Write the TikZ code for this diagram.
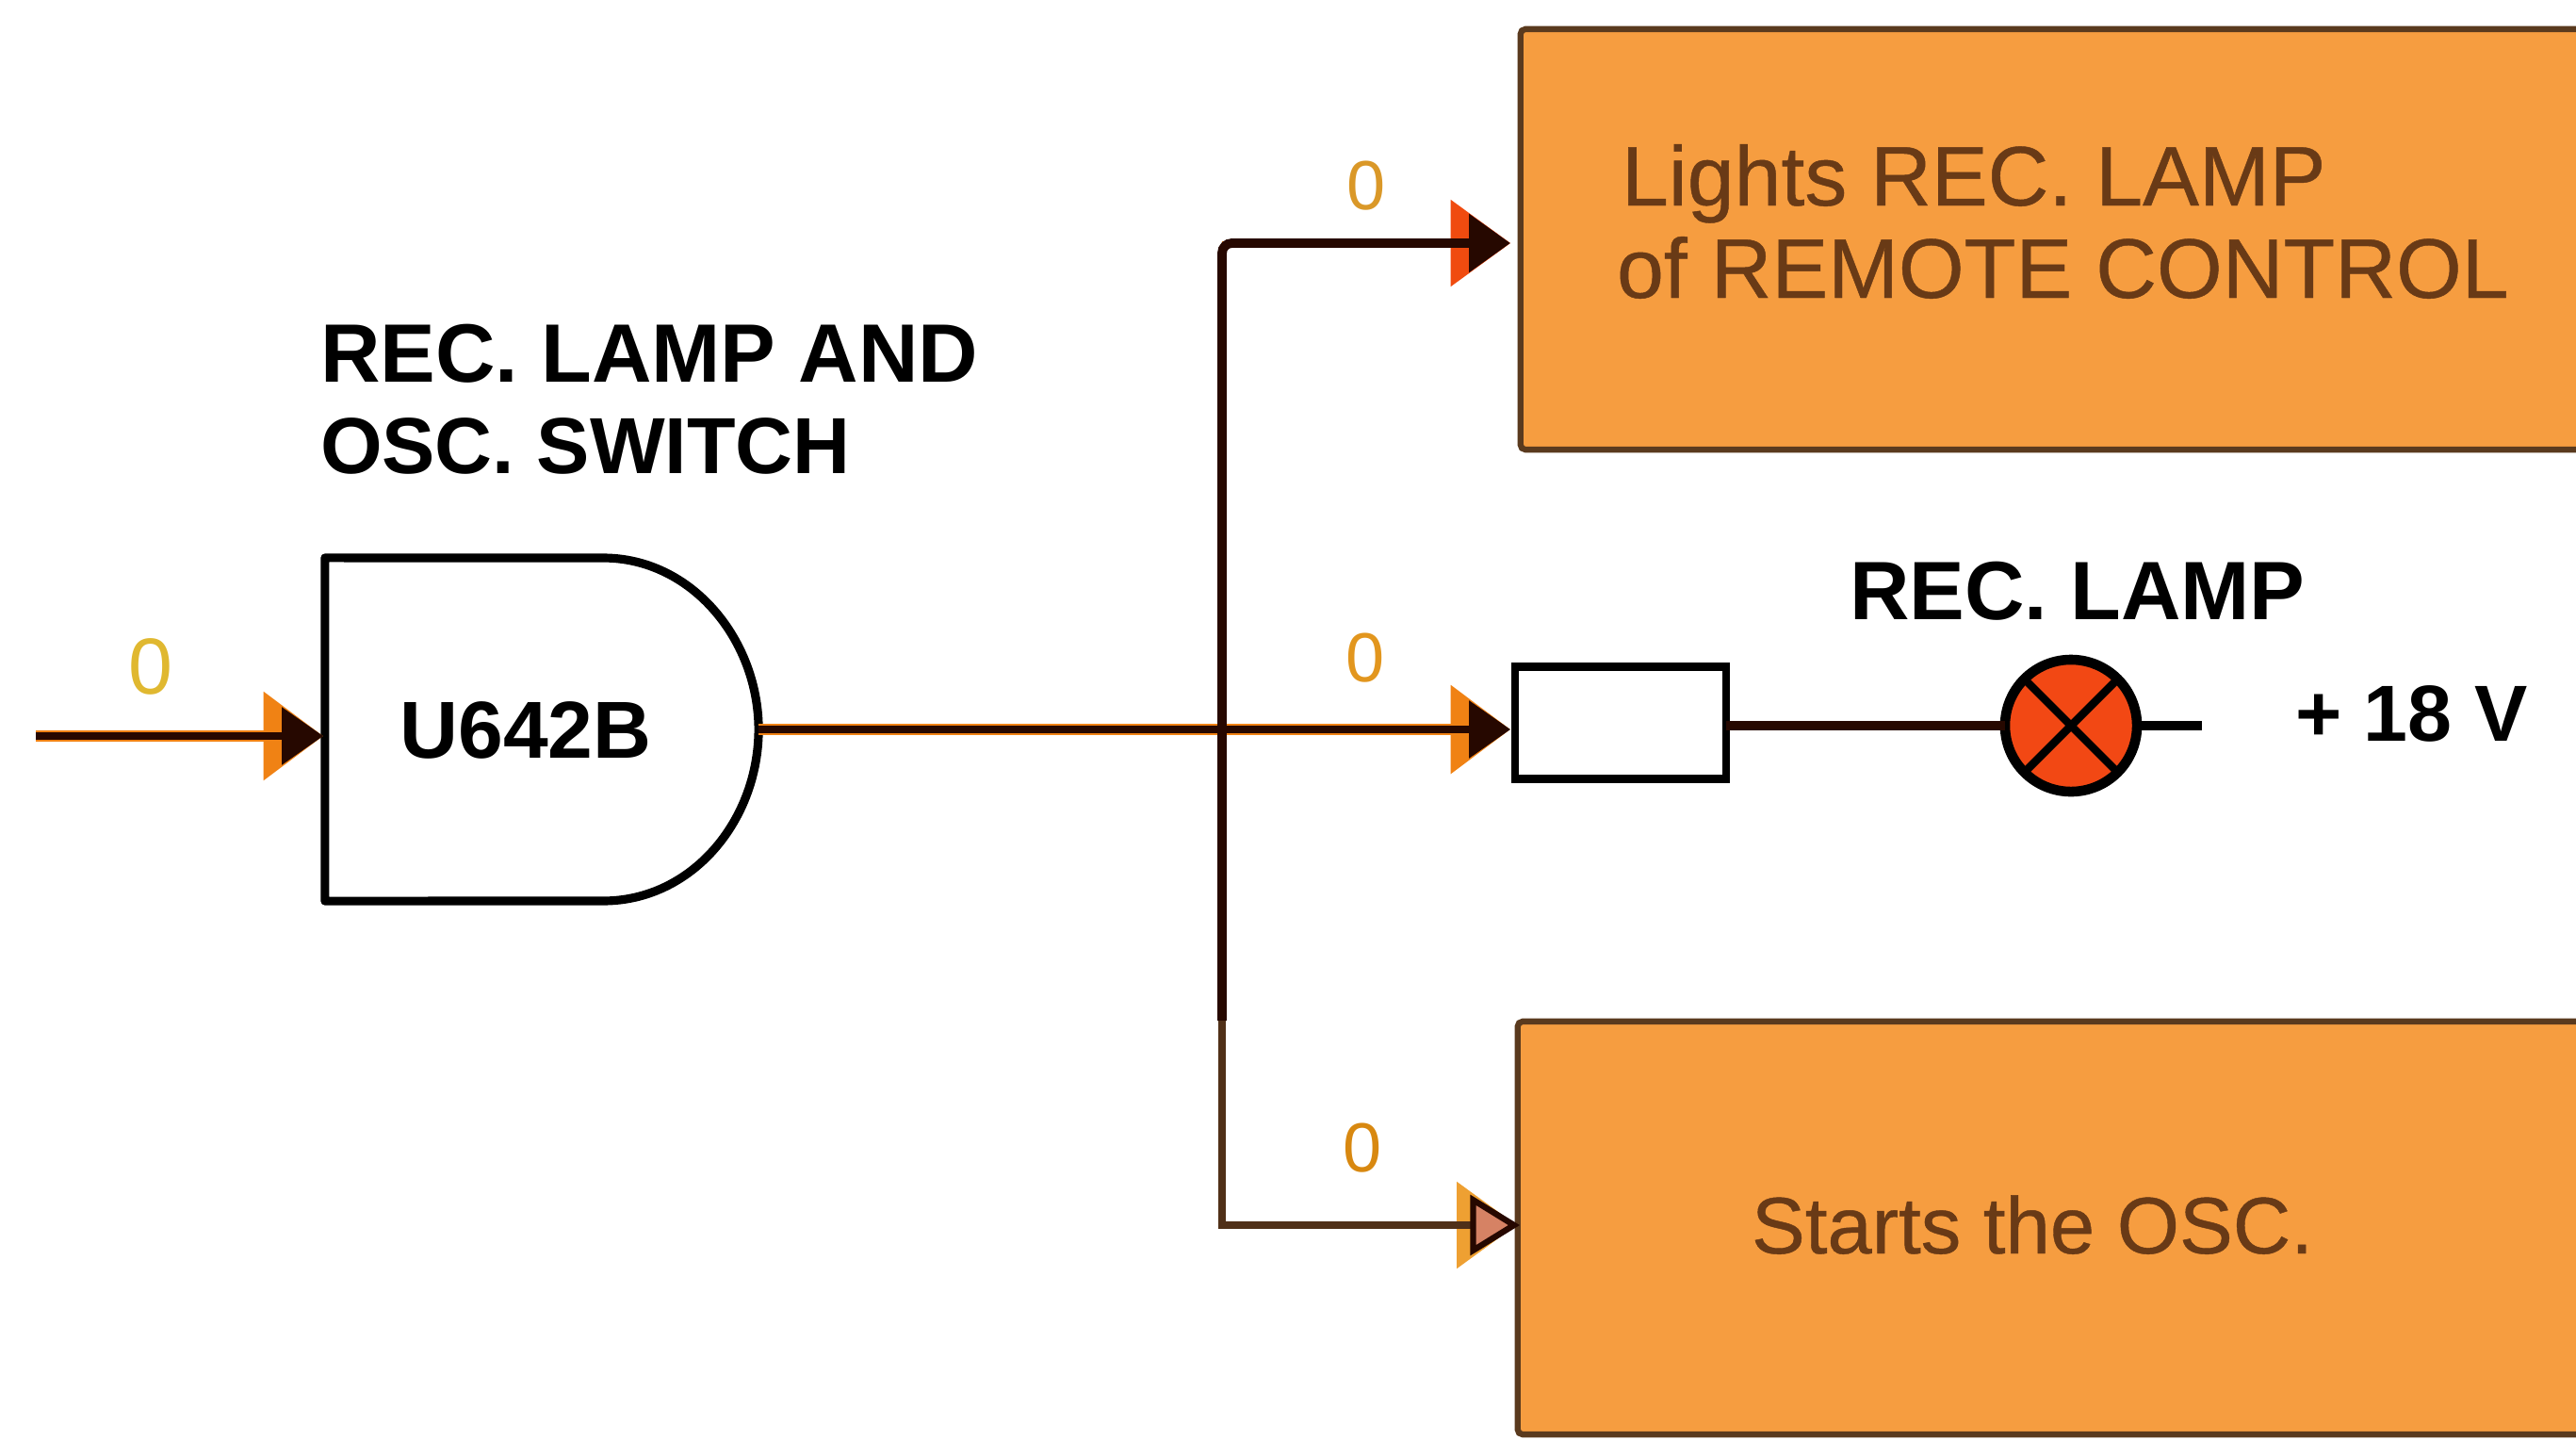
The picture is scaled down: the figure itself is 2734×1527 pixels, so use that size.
\documentclass[tikz,border=0pt]{standalone}
\usepackage{fontspec}
\setmainfont{Liberation Sans}
\newfontfamily\boxfont[FakeBold=0.5]{Liberation Sans}
\usetikzlibrary{arrows.meta}
\definecolor{boxfill}{RGB}{246,157,64}
\definecolor{boxedge}{RGB}{90,58,30}
\definecolor{boxtext}{RGB}{105,58,22}
\definecolor{wiredark}{RGB}{38,8,0}
\definecolor{wirebrown}{RGB}{80,48,24}
\definecolor{wireorange}{RGB}{240,130,20}
\definecolor{tipred}{RGB}{240,75,15}
\definecolor{tiplight}{RGB}{238,160,50}
\definecolor{tippink}{RGB}{214,130,100}
\definecolor{lampred}{RGB}{242,72,20}
\tikzset{
  every node/.style={inner sep=0pt,outer sep=0pt},
  actionbox/.style={draw=boxedge,fill=boxfill,line width=1.8pt,rounded corners=1.5pt,anchor=center},
  boxlabel/.style={text=boxtext,font=\boxfont\fontsize{25.5}{30}\selectfont,anchor=base west},
  heading/.style={text=black,font=\bfseries\fontsize{25}{30}\selectfont,anchor=base west},
  zerolabel/.style={font=\fontsize{21}{26}\selectfont},
  glow/.style={draw=wireorange,line width=3.4pt},
  wire/.style={draw=wiredark,line width=2.8pt},
  thinwire/.style={draw=wiredark,line width=2pt},
  otip/.style={-{Triangle[length=18pt,width=26pt,fill=#1,color=#1]}},
  dtip/.style={-{Triangle[length=12.5pt,width=17pt,fill=wiredark,color=wiredark]}},
  htip/.style={-{Triangle[open,length=15pt,width=18pt,line width=1.8pt,fill=tippink,color=wiredark]}}
}
\begin{document}
\begin{tikzpicture}[x=0.01cm,y=-0.01cm]
\useasboundingbox (0,0) rectangle (2734,1527);
\clip (0,0) rectangle (2734,1527);
\fill[white] (0,0) rectangle (2734,1527);

% blocks
\node[actionbox,minimum width=1200pt*0.2845,minimum height=446*0.2845pt] (top) at (2214,254) {};
\node[actionbox,minimum width=1200pt*0.2845,minimum height=438*0.2845pt] (bot) at (2211,1303) {};
\node[draw=black,fill=white,line width=2.4pt,minimum width=224*0.2845pt,minimum height=119*0.2845pt] (res) at (1720,767) {};
\node[minimum width=460*0.2845pt,minimum height=364*0.2845pt] (gate) at (575,774) {};
\node[circle,draw=black,fill=lampred,line width=3pt,minimum size=140*0.2845pt] (lamp) at (2198,770) {};
\coordinate (in) at (38,781);
\coordinate (J) at (1297,774);
\coordinate (K) at (1297,258);
\coordinate (L) at (1297,1300);
\coordinate (M) at (1297,1083);
\coordinate (stub) at (2337,770);
\coordinate (intip) at (343,781);
\coordinate (toptip) at (1603,258);
\coordinate (midtip) at (1603,774);
\coordinate (bottip) at (1613,1300);

% lamp cross
\draw[black,line width=2.4pt] (lamp.north west) -- (lamp.south east);
\draw[black,line width=2.4pt] (lamp.north east) -- (lamp.south west);

% gate outline
\draw[black,line width=2.6pt,line join=round,fill=white]
  (gate.north west) -- (640,592)
  .. controls (735,592) and (805,680) .. (gate.east)
  .. controls (805,870) and (735,956) .. (640,956)
  -- (gate.south west) -- cycle;

% orange under-layers of the wires and arrowheads
\draw[glow,shift={(0,7)},otip=wireorange] (in) -- (intip);
\draw[glow,shift={(0,7)}] (gate.east) -- (J);
\draw[glow,shift={(0,7)},otip=wireorange] (J) -- (midtip);
\draw[draw=wireorange,line width=1pt,otip=tipred] (K) -- (toptip);
\draw[draw=tiplight,line width=1pt,otip=tiplight] (L) -- ([xshift=-1pt]bottip);

% dark wires
\draw[thinwire,dtip] (in) -- (intip);
\draw[thinwire] (gate.east) -- (J);
\draw[thinwire,dtip] (J) -- (midtip);
\draw[wire,rounded corners=3pt,dtip] (M) -- (K) -- (toptip);
\draw[draw=wirebrown,line width=2.4pt,htip] (M) -- (L) -- (bottip);
\draw[wire] (res.east |- lamp) -- (lamp);
\draw[black,line width=2.8pt] (lamp.east) -- (stub);

% labels
\node[heading] (h1) at (340,405) {REC. LAMP AND};
\node[heading,font=\bfseries\fontsize{24}{30}\selectfont] (h2) at (340,502) {OSC. SWITCH};
\node[heading] (h3) at (1963,657) {REC. LAMP};
\node[heading,font=\bfseries\fontsize{24}{28}\selectfont] (v) at (2436,786) {+ 18 V};
\node[heading,font=\bfseries\fontsize{24.4}{28}\selectfont,anchor=base] (u) at (558,804) {U642B};
\node[boxlabel] (t1) at (1721,218) {Lights REC. LAMP};
\node[boxlabel] (t2) at (1716,316) {of REMOTE CONTROL};
\node[boxlabel,font=\boxfont\fontsize{24.2}{30}\selectfont] (t3) at (1859,1330) {Starts the OSC.};
\node[zerolabel,font=\fontsize{24}{28}\selectfont,text={rgb,255:red,224;green,184;blue,48}] (z1) at (160,707) {0};
\node[zerolabel,text={rgb,255:red,218;green,152;blue,40}] (z2) at (1450,197) {0};
\node[zerolabel,text={rgb,255:red,226;green,150;blue,30}] (z3) at (1449,698) {0};
\node[zerolabel,text={rgb,255:red,216;green,136;blue,16}] (z4) at (1446,1218) {0};
\end{tikzpicture}
\end{document}
